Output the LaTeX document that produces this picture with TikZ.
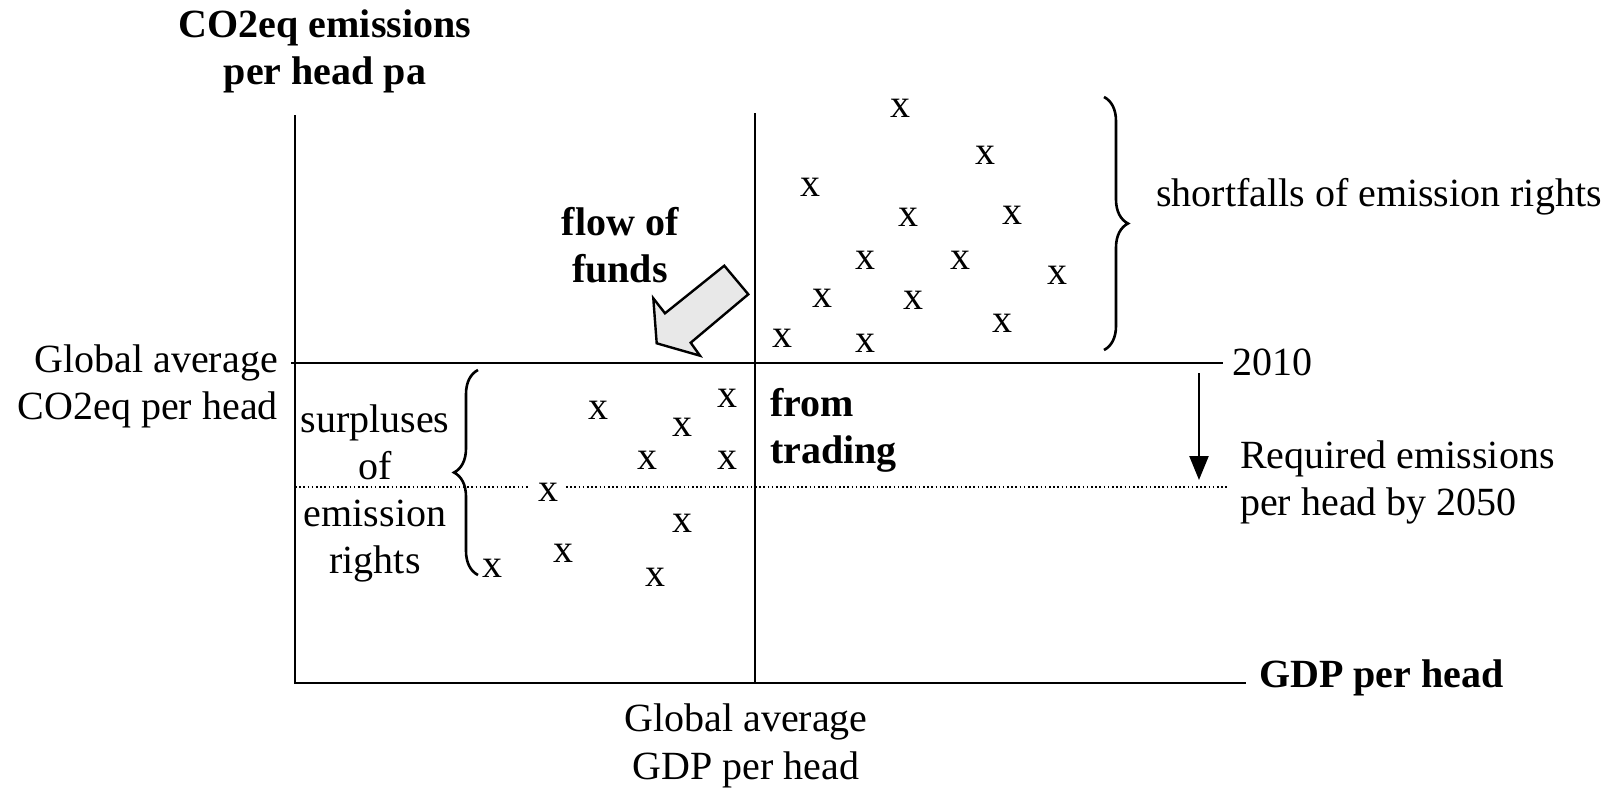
\documentclass[tikz,border=0pt]{standalone}
\usepackage{fontspec}
\setmainfont{Liberation Serif}
\usetikzlibrary{arrows.meta,decorations.pathreplacing}
\tikzset{
  lbl/.style={inner sep=0pt,font=\fontsize{40}{47}\selectfont},
  blbl/.style={inner sep=0pt,font=\fontsize{40}{47}\selectfont\bfseries},
  axisline/.style={line width=2.6pt},
  cross/.style={inner sep=0pt,font=\fontsize{40}{46}\selectfont},
  bracestyle/.style={line width=2.6pt,decorate,decoration={brace,amplitude=24pt}},
  blockarrow/.style={draw=black,fill=gray!18,line width=2.4pt,line join=miter},
}
\begin{document}
\begin{tikzpicture}[x=1pt,y=-1pt]
\useasboundingbox (0,0) rectangle (1615,790);
% coordinates
\coordinate (yaxtop) at (295,115);
\coordinate (origin) at (295,683);
\coordinate (xaxend) at (1246,683);
\coordinate (midtop) at (755,113);
\coordinate (midbot) at (755,683);
\coordinate (hl) at (291,363);
\coordinate (hr) at (1223,363);
\coordinate (d1a) at (295,487);
\coordinate (d1b) at (528,487);
\coordinate (d2a) at (566,487);
\coordinate (d2b) at (1228,487);
\coordinate (arrtop) at (1199,373);
\coordinate (arrbot) at (1199,480);
% axes
\draw[axisline] (yaxtop) -- (origin) -- (xaxend);
\draw[axisline] (midtop) -- (midbot);
\draw[axisline] (hl) -- (hr);
\draw[line width=1.6pt,dash pattern=on 1.6pt off 2.6pt] (d1a) -- (d1b);
\draw[line width=1.6pt,dash pattern=on 1.6pt off 2.6pt] (d2a) -- (d2b);
\draw[line width=2.4pt,-{Triangle[length=24pt,width=19pt]}] (arrtop) -- (arrbot);
% braces
\coordinate (rbt) at (1104,97);
\coordinate (rbb) at (1104,350);
\draw[bracestyle] (rbt) -- (rbb);
\coordinate (lbb) at (478,575);
\coordinate (lbt) at (478,370);
\draw[bracestyle] (lbb) -- (lbt);
% block arrow
\draw[blockarrow] (724.3,265.7) -- (748.3,294.3) -- (690.7,342.7) -- (700,355.7)
  -- (656.7,343.3) -- (653.3,298.3) -- (665,313.3) -- cycle;
% labels
\node[blbl,align=center] (ylab) at (325,51) {CO2eq emissions\\per head pa};
\node[lbl,align=right,anchor=east] (gavg) at (278,386) {Global average\\CO2eq per head};
\node[lbl,anchor=west] (y2010) at (1232,362) {2010};
\node[lbl,align=left,anchor=west] (req) at (1240,482) {Required emissions\\per head by 2050};
\node[blbl,anchor=west] (gdp) at (1259,678) {GDP per head};
\node[lbl,align=center,font=\fontsize{40}{48}\selectfont] (ggdp) at (746,746) {Global average\\GDP per head};
\node[lbl,align=center] (surp) at (375,493) {surpluses\\of\\emission\\rights};
\node[blbl,align=center] (flow) at (620,245) {flow of\\funds};
\node[blbl,align=left,anchor=west] (trade) at (770,430) {from\\trading};
\node[lbl,anchor=west] (short) at (1156,197) {shortfalls of emission rights};
% crosses
\foreach \px/\py [count=\i] in {900/108,985/155,810/187,908/217,1012/215,865/260,960/260,1057/275,822/298,913/300,1002/323,782/338,865/343,598/410,727/398,682/427,647/460,727/460,548/492,682/523,563/553,492/568,655/577}
  \node[cross] (x\i) at (\px,\py) {x};
\end{tikzpicture}
\end{document}
